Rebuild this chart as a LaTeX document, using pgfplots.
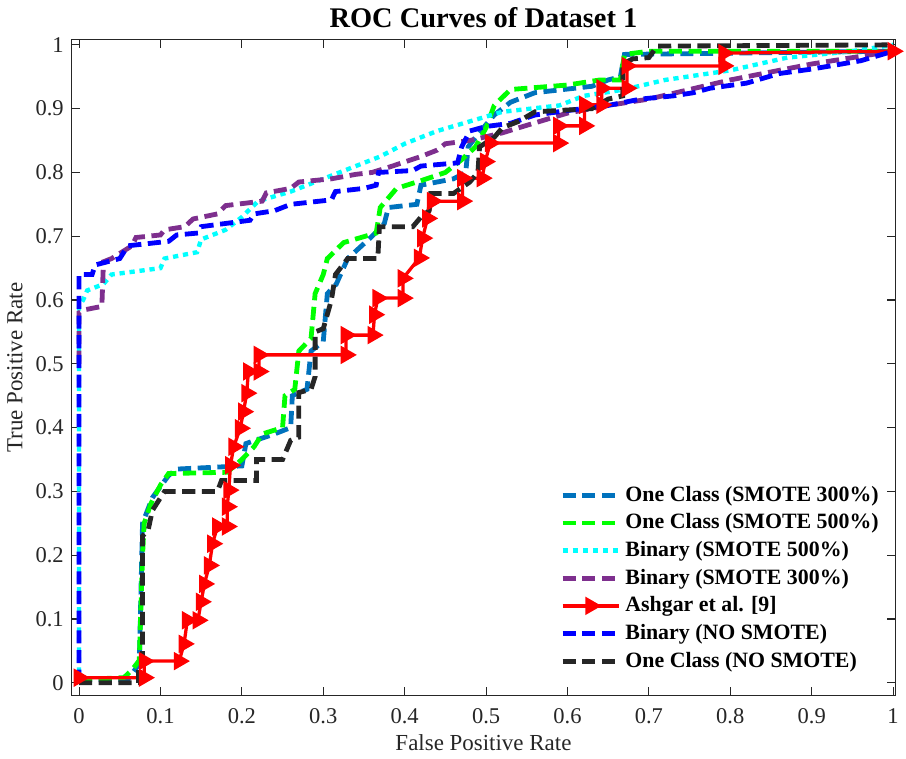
\documentclass[border=0pt]{standalone}
\usepackage{fontspec}
\setmainfont{Liberation Serif}
\usepackage{pgfplots}
\pgfplotsset{compat=1.18}
\definecolor{ocA}{HTML}{0072BD}
\definecolor{ocB}{HTML}{00FF00}
\definecolor{bnA}{HTML}{00FFFF}
\definecolor{bnB}{HTML}{7E2F8E}
\definecolor{ashr}{HTML}{FF0000}
\definecolor{bnN}{HTML}{0000FF}
\definecolor{ocN}{HTML}{262626}
\definecolor{axgray}{HTML}{262626}

\begin{document}
\begin{tikzpicture}
\begin{axis}[
  scale only axis,
  width=377pt,height=300pt,
  xmin=-0.0094,xmax=1.003,ymin=-0.02,ymax=1.008,
  xtick={0,0.1,...,1.01},ytick={0,0.1,...,1.01},
  xticklabels={0,0.1,0.2,0.3,0.4,0.5,0.6,0.7,0.8,0.9,1},
  yticklabels={0,0.1,0.2,0.3,0.4,0.5,0.6,0.7,0.8,0.9,1},
  tick align=inside,major tick length=4pt,
  axis line style={axgray,line width=0.5pt},tick style={axgray,line width=0.5pt},
  tick label style={font=\fontsize{10.3}{12}\selectfont,text=axgray},
  xticklabel style={yshift=-2.5pt},
  /pgf/number format/assume math mode=true,
  title={\textbf{ROC Curves of Dataset 1}},
  title style={font=\fontsize{13}{15}\selectfont,yshift=-4pt},
  xlabel={False Positive Rate},ylabel={True Positive Rate},
  label style={font=\fontsize{10.5}{12}\selectfont,text=axgray},
  xlabel style={yshift=2pt},
  ylabel style={yshift=-1pt},
  legend style={at={(0.59,0.33)},anchor=north west,draw=none,fill=none,
    font=\bfseries\fontsize{10}{12}\selectfont,row sep=0.2pt,inner sep=1pt},
  legend cell align=left,
  legend image code/.code={\draw[mark repeat=2,mark phase=2,#1] plot coordinates {(0cm,0cm) (0.45cm,0cm) (0.9cm,0cm)};},
  dsh/.style={line width=2.2pt,dash pattern=on 6pt off 3pt},
]
% One Class (SMOTE 300%)
\addplot[ocA,dsh] coordinates {
 (0,0.005) (0.06,0.005) (0.074,0.03) (0.078,0.25) (0.09,0.29) (0.11,0.325) (0.12,0.335)
 (0.20,0.34) (0.205,0.375) (0.24,0.39) (0.26,0.40) (0.262,0.45) (0.27,0.455) (0.28,0.46)
 (0.285,0.52) (0.30,0.535) (0.305,0.61) (0.316,0.625) (0.33,0.665) (0.36,0.70) (0.375,0.72)
 (0.38,0.745) (0.415,0.75) (0.42,0.78) (0.46,0.79) (0.475,0.80) (0.478,0.84) (0.49,0.86)
 (0.51,0.89) (0.53,0.91) (0.56,0.925) (0.63,0.935) (0.65,0.945) (0.665,0.95) (0.67,0.985) (1,0.99)};
\addlegendentry{One Class (SMOTE 300\%)}
% One Class (SMOTE 500%)
\addplot[ocB,dsh] coordinates {
 (0,0.005) (0.055,0.008) (0.065,0.02) (0.074,0.035) (0.078,0.2) (0.08,0.25) (0.088,0.28)
 (0.10,0.31) (0.11,0.328) (0.182,0.33) (0.20,0.35) (0.215,0.37) (0.225,0.39) (0.25,0.40)
 (0.253,0.45) (0.265,0.46) (0.27,0.52) (0.285,0.54) (0.29,0.61) (0.30,0.64) (0.305,0.665)
 (0.325,0.69) (0.365,0.705) (0.37,0.745) (0.39,0.775) (0.42,0.787) (0.45,0.80) (0.47,0.82)
 (0.487,0.84) (0.50,0.87) (0.51,0.905) (0.53,0.93) (0.60,0.937) (0.64,0.945) (0.665,0.945)
 (0.67,0.985) (0.70,0.99) (1,0.99)};
\addlegendentry{One Class (SMOTE 500\%)}
% Binary (SMOTE 500%)
\addplot[bnA,line width=2pt,dash pattern=on 2.4pt off 2.2pt] coordinates {
 (0,0) (0,0.59) (0.005,0.60) (0.01,0.615) (0.03,0.625) (0.04,0.64) (0.10,0.65) (0.105,0.665)
 (0.145,0.675) (0.15,0.695) (0.18,0.71) (0.20,0.73) (0.22,0.755) (0.26,0.77) (0.30,0.79)
 (0.33,0.805) (0.37,0.825) (0.40,0.845) (0.44,0.865) (0.48,0.88) (0.52,0.895) (0.59,0.905)
 (0.62,0.92) (0.67,0.93) (0.72,0.945) (0.80,0.96) (0.87,0.98) (0.95,0.99) (1,1.0)};
\addlegendentry{Binary (SMOTE 500\%)}
% Binary (SMOTE 300%)
\addplot[bnB,dsh] coordinates {
 (0,0.50) (0,0.58) (0.008,0.585) (0.028,0.59) (0.03,0.66) (0.04,0.665) (0.065,0.685)
 (0.07,0.698) (0.10,0.702) (0.105,0.71) (0.13,0.715) (0.14,0.727) (0.17,0.735) (0.18,0.748)
 (0.225,0.755) (0.23,0.768) (0.26,0.775) (0.27,0.785) (0.31,0.79) (0.34,0.797) (0.36,0.80)
 (0.385,0.81) (0.42,0.825) (0.44,0.835) (0.45,0.845) (0.48,0.85) (0.52,0.862) (0.54,0.87)
 (0.60,0.893) (0.65,0.905) (0.70,0.915) (0.75,0.93) (0.80,0.945) (0.86,0.96) (0.90,0.97)
 (0.95,0.98) (1,0.99)};
\addlegendentry{Binary (SMOTE 300\%)}
% Ashgar et al. [9]
\addplot[ashr,line width=1.5pt,mark=triangle*,mark size=3.4pt,
  mark options={rotate=-90,solid,fill=ashr}] coordinates {
 (0,0.008) (0.08,0.008) (0.08,0.034) (0.123,0.034) (0.129,0.061) (0.133,0.098) (0.146,0.098)
 (0.150,0.127) (0.154,0.155) (0.160,0.184) (0.164,0.218) (0.170,0.245) (0.182,0.245)
 (0.182,0.276) (0.184,0.302) (0.186,0.341) (0.190,0.370) (0.198,0.399) (0.202,0.425)
 (0.206,0.454) (0.208,0.488) (0.221,0.488) (0.221,0.514) (0.328,0.514) (0.328,0.545)
 (0.361,0.545) (0.363,0.577) (0.367,0.603) (0.398,0.603) (0.398,0.634) (0.418,0.666)
 (0.422,0.697) (0.428,0.728) (0.434,0.755) (0.471,0.755) (0.471,0.791) (0.495,0.791)
 (0.499,0.817) (0.505,0.846) (0.589,0.846) (0.589,0.873) (0.621,0.873) (0.621,0.906)
 (0.642,0.906) (0.642,0.932) (0.673,0.932) (0.673,0.967) (0.792,0.967) (0.792,0.987) (1,0.99)};
\addlegendentry{Ashgar et al. [9]}
% Binary (NO SMOTE)
\addplot[bnN,dsh] coordinates {
 (0,0) (0,0.64) (0.016,0.64) (0.02,0.655) (0.05,0.665) (0.055,0.675) (0.06,0.685)
 (0.11,0.692) (0.12,0.702) (0.146,0.705) (0.15,0.715) (0.18,0.72) (0.21,0.725) (0.215,0.735)
 (0.24,0.74) (0.26,0.75) (0.31,0.757) (0.315,0.77) (0.35,0.775) (0.365,0.78) (0.368,0.80)
 (0.41,0.803) (0.42,0.81) (0.465,0.815) (0.47,0.84) (0.48,0.865) (0.50,0.872) (0.53,0.877)
 (0.56,0.89) (0.60,0.897) (0.65,0.905) (0.69,0.915) (0.73,0.92) (0.755,0.925) (0.775,0.932)
 (0.82,0.94) (0.86,0.955) (0.90,0.962) (0.96,0.975) (1,0.99)};
\addlegendentry{Binary (NO SMOTE)}
% One Class (NO SMOTE)
\addplot[ocN,dsh] coordinates {
 (0,0) (0.073,0) (0.073,0.02) (0.078,0.035) (0.078,0.23) (0.085,0.24) (0.09,0.27) (0.10,0.29)
 (0.105,0.30) (0.17,0.30) (0.175,0.317) (0.218,0.317) (0.218,0.35) (0.25,0.35) (0.26,0.38)
 (0.27,0.385) (0.27,0.455) (0.285,0.46) (0.29,0.48) (0.29,0.55) (0.30,0.555) (0.31,0.60)
 (0.315,0.64) (0.33,0.665) (0.367,0.665) (0.369,0.715) (0.41,0.715) (0.42,0.73) (0.43,0.74)
 (0.432,0.767) (0.46,0.767) (0.48,0.785) (0.49,0.80) (0.492,0.84) (0.51,0.855) (0.52,0.87)
 (0.54,0.88) (0.56,0.895) (0.63,0.90) (0.65,0.915) (0.668,0.92) (0.668,0.97) (0.68,0.978)
 (0.70,0.98) (0.71,0.998) (1,1.0)};
\addlegendentry{One Class (NO SMOTE)}
\end{axis}
\end{tikzpicture}
\end{document}
